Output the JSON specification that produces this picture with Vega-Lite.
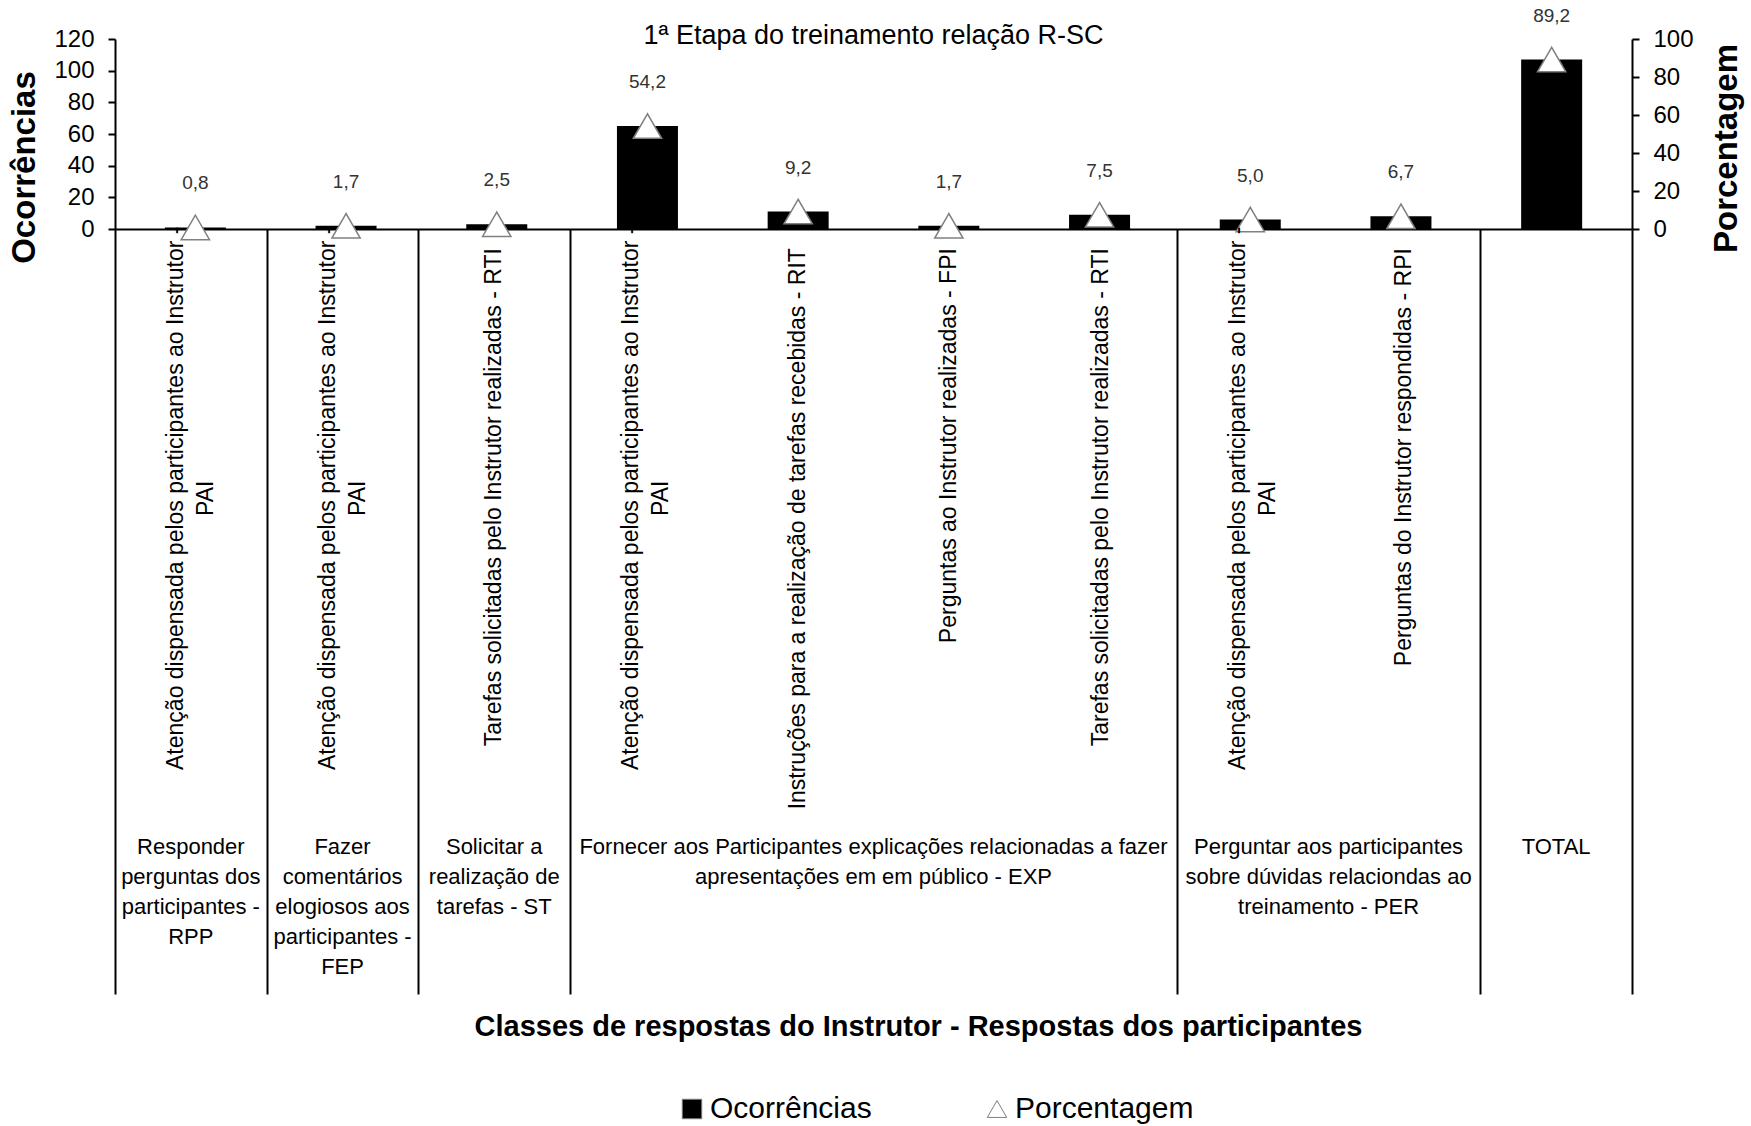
{
  "$schema": "https://vega.github.io/schema/vega-lite/v6.json",
  "background": "white",
  "padding": {"left": 8, "top": 6, "right": 5, "bottom": 5},
  "bounds": "flush",
  "spacing": 0,
  "config": {
    "view": {"stroke": null},
    "font": "Liberation Sans",
    "locale": {"number": {"decimal": ",", "thousands": ".", "grouping": [3], "currency": ["R$", ""]}},
    "axis": {"domainColor": "black", "tickColor": "black", "labelColor": "black", "titleColor": "black", "grid": false, "domainWidth": 2, "tickWidth": 2, "labelOverlap": false, "labelBound": false, "labelFlush": false}
  },
  "datasets": {
    "d": [
      {"n": 1, "cat": ["Atenção dispensada pelos participantes ao Instrutor -", "PAI"], "grupo": ["Responder", "perguntas dos", "participantes -", "RPP"], "ocorrencias": 1, "pct": 0.8},
      {"n": 2, "cat": ["Atenção dispensada pelos participantes ao Instrutor -", "PAI"], "grupo": ["Fazer", "comentários", "elogiosos aos", "participantes -", "FEP"], "ocorrencias": 2, "pct": 1.7},
      {"n": 3, "cat": "Tarefas solicitadas pelo Instrutor realizadas - RTI", "grupo": ["Solicitar a", "realização de", "tarefas - ST"], "ocorrencias": 3, "pct": 2.5},
      {"n": 4, "cat": ["Atenção dispensada pelos participantes ao Instrutor -", "PAI"], "grupo": ["Fornecer aos Participantes explicações relacionadas a fazer", "apresentações em  em público - EXP"], "ocorrencias": 65, "pct": 54.2},
      {"n": 5, "cat": "Instruções para a realização de tarefas recebidas - RIT", "grupo": ["Fornecer aos Participantes explicações relacionadas a fazer", "apresentações em  em público - EXP"], "ocorrencias": 11, "pct": 9.2},
      {"n": 6, "cat": "Perguntas ao Instrutor realizadas - FPI", "grupo": ["Fornecer aos Participantes explicações relacionadas a fazer", "apresentações em  em público - EXP"], "ocorrencias": 2, "pct": 1.7},
      {"n": 7, "cat": "Tarefas solicitadas pelo Instrutor realizadas - RTI", "grupo": ["Fornecer aos Participantes explicações relacionadas a fazer", "apresentações em  em público - EXP"], "ocorrencias": 9, "pct": 7.5},
      {"n": 8, "cat": ["Atenção dispensada pelos participantes ao Instrutor -", "PAI"], "grupo": ["Perguntar aos participantes", "sobre dúvidas relaciondas ao", "treinamento - PER"], "ocorrencias": 6, "pct": 5.0},
      {"n": 9, "cat": "Perguntas do Instrutor respondidas - RPI", "grupo": ["Perguntar aos participantes", "sobre dúvidas relaciondas ao", "treinamento - PER"], "ocorrencias": 8, "pct": 6.7},
      {"n": 10, "cat": "", "grupo": "TOTAL", "ocorrencias": 107, "pct": 89.2}
    ]
  },
  "vconcat": [
    {
      "width": 1517,
      "height": 190,
      "title": {"text": "1ª Etapa do treinamento relação R-SC", "fontSize": 27, "fontWeight": "normal", "font": "Liberation Sans", "color": "black", "anchor": "middle", "offset": -43},
      "data": {"name": "d"},
      "layer": [
        {
          "mark": {"type": "bar", "width": 61},
          "encoding": {
            "x": {"field": "n", "type": "quantitative", "scale": {"domain": [0.5, 10.5], "nice": false, "zero": false},
                  "axis": {"domain": true, "ticks": false, "labels": false, "title": null, "grid": false}},
            "y": {"field": "ocorrencias", "type": "quantitative", "scale": {"domain": [0, 120], "nice": false},
                  "axis": {"orient": "left", "title": "Ocorrências", "values": [0, 20, 40, 60, 80, 100, 120], "labelOverlap": false, "labelFontSize": 24, "tickSize": 7, "labelPadding": 14, "titleFontSize": 33, "titleFontWeight": "bold", "titlePadding": 12, "titleY": 128}},
            "fill": {"datum": "Ocorrências", "type": "nominal", "scale": {"domain": ["Ocorrências", "Porcentagem"], "range": ["black", "white"]},
                     "legend": {"title": null, "orient": "none", "legendX": 562, "legendY": 1055, "direction": "horizontal", "labelFontSize": 30, "labelLimit": 400, "symbolSize": 380, "symbolStrokeColor": "#7f7f7f", "symbolStrokeWidth": 1, "columnPadding": 110, "labelOffset": 3}}
          }
        },
        {
          "layer": [
            {
              "mark": {"type": "point", "filled": true, "size": 800, "stroke": "#808080", "strokeWidth": 1.5, "opacity": 1},
              "encoding": {
                "x": {"field": "n", "type": "quantitative"},
                "y": {"field": "pct", "type": "quantitative", "scale": {"domain": [0, 100], "nice": false},
                      "axis": {"orient": "right", "title": "Porcentagem", "values": [0, 20, 40, 60, 80, 100], "labelOverlap": false, "labelFontSize": 24, "tickSize": 7, "labelPadding": 14, "titleFontSize": 33, "titleFontWeight": "bold", "titleAngle": 270, "titleBaseline": "top", "titlePadding": 17, "titleY": 109}},
                "fill": {"datum": "Porcentagem", "type": "nominal", "scale": {"domain": ["Ocorrências", "Porcentagem"], "range": ["black", "white"]},
                         "legend": {"title": null, "orient": "none", "legendX": 562, "legendY": 1055, "direction": "horizontal", "labelFontSize": 30, "labelLimit": 400, "symbolSize": 380, "symbolStrokeColor": "#7f7f7f", "symbolStrokeWidth": 1, "columnPadding": 110, "labelOffset": 3}},
                "shape": {"datum": "Porcentagem", "type": "nominal", "scale": {"domain": ["Ocorrências", "Porcentagem"], "range": ["square", "triangle-up"]},
                          "legend": {"title": null, "orient": "none", "legendX": 562, "legendY": 1055, "direction": "horizontal", "labelFontSize": 30, "labelLimit": 400, "symbolSize": 380, "symbolStrokeColor": "#7f7f7f", "symbolStrokeWidth": 1, "columnPadding": 110, "labelOffset": 3}}
              }
            },
            {
              "mark": {"type": "text", "dy": -44, "fontSize": 19, "color": "#333333", "font": "Liberation Sans"},
              "encoding": {
                "x": {"field": "n", "type": "quantitative"},
                "y": {"field": "pct", "type": "quantitative",
                      "axis": {"orient": "right", "title": "Porcentagem", "values": [0, 20, 40, 60, 80, 100], "labelOverlap": false, "labelFontSize": 24, "tickSize": 7, "labelPadding": 14, "titleFontSize": 33, "titleFontWeight": "bold", "titleAngle": 270, "titleBaseline": "top", "titlePadding": 17, "titleY": 109}},
                "text": {"field": "pct", "type": "quantitative", "format": ".1f"}
              }
            }
          ]
        }
      ],
      "resolve": {"scale": {"y": "independent"}}
    },
    {
      "width": 1517,
      "height": 765,
      "data": {"name": "d"},
      "layer": [
        {
          "transform": [{"filter": "!isArray(datum.cat)"}],
          "mark": {"type": "text", "angle": 270, "align": "right", "baseline": "middle", "font": "Liberation Sans", "fontSize": 23, "color": "black"},
          "encoding": {
            "x": {"field": "n", "type": "quantitative", "scale": {"domain": [0.5, 10.5], "nice": false, "zero": false},
                  "axis": {"grid": true, "values": [0.5, 1.5, 2.5, 3.5, 7.5, 9.5, 10.5], "gridColor": "black", "gridWidth": 2, "gridOpacity": 1, "labels": false, "ticks": false, "domain": false,
                           "title": "Classes de respostas do Instrutor - Respostas dos participantes", "titleFontSize": 29, "titleFontWeight": "bold", "titlePadding": 18, "titleX": 803}},
            "y": {"datum": 2.5, "type": "quantitative", "scale": {"domain": [0, 100], "reverse": true, "nice": false, "zero": false}, "axis": null},
            "text": {"field": "cat", "type": "nominal"}
          }
        },
        {
          "transform": [{"filter": "isArray(datum.cat)"}],
          "mark": {"type": "text", "angle": 270, "align": "center", "baseline": "middle", "lineHeight": 30, "dy": -15, "font": "Liberation Sans", "fontSize": 23, "color": "black"},
          "encoding": {
            "x": {"field": "n", "type": "quantitative"},
            "y": {"datum": 35.2, "type": "quantitative"},
            "text": {"field": "cat", "type": "nominal"}
          }
        },
        {
          "mark": {"type": "text", "align": "center", "baseline": "top", "lineHeight": 30, "font": "Liberation Sans", "fontSize": 22, "color": "black"},
          "encoding": {
            "x": {"aggregate": "mean", "field": "n", "type": "quantitative"},
            "y": {"datum": 79.5, "type": "quantitative"},
            "text": {"field": "grupo", "type": "nominal"}
          }
        }
      ]
    }
  ]
}
